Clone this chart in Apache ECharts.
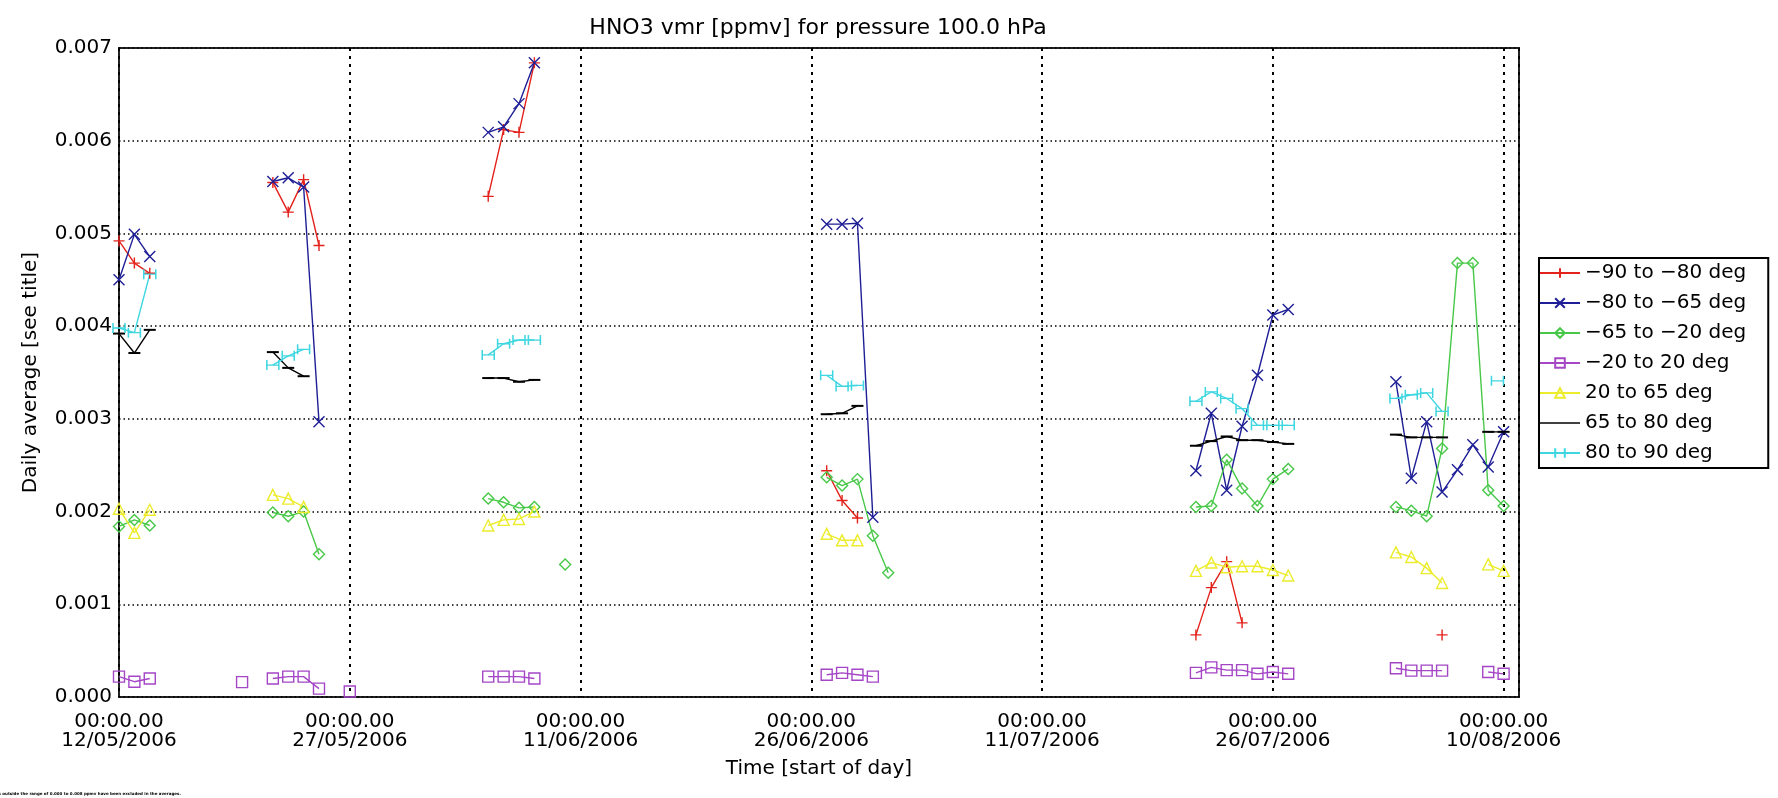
<!DOCTYPE html>
<html>
<head>
<meta charset="utf-8">
<title>HNO3 vmr for pressure 100.0 hPa</title>
<script src="https://cdn.jsdelivr.net/npm/echarts@6/dist/echarts.min.js"></script>
<style>
  html, body { margin: 0; padding: 0; background: #fff; }
  #chart { width: 1778px; height: 798px; }
</style>
</head>
<body>
<div id="chart"></div>
<script>
// Daily averages, x = days after 12/05/2006 00:00, y = vmr in ppmv
var startDate = Date.UTC(2006, 4, 12);
var dayMs = 86400000;

var seriesNames = ['\u221290 to \u221280 deg', '\u221280 to \u221265 deg', '\u221265 to \u221220 deg',
  '\u221220 to 20 deg', '20 to 65 deg', '65 to 80 deg', '80 to 90 deg'];

var redDays = [0, 1, 2, 10, 11, 12, 13, 24, 25, 26, 27, 46, 47, 48, 70, 71, 72, 73, 86];
var red = [0.00492, 0.00468, 0.00457, 0.00555, 0.00523, 0.00558, 0.00487, 0.00540, 0.00612, 0.00609, 0.00684,
  0.00244, 0.00212, 0.00193, 0.00067, 0.00118, 0.00146, 0.00080, 0.00067];

var blueDays = [0, 1, 2, 10, 11, 12, 13, 24, 25, 26, 27, 46, 47, 48, 49,
  70, 71, 72, 73, 74, 75, 76, 83, 84, 85, 86, 87, 88, 89, 90];
var blue = [0.00450, 0.00499, 0.00475, 0.00556, 0.00560, 0.00550, 0.00297, 0.00609, 0.00615, 0.00640, 0.00684,
  0.00510, 0.00510, 0.00511, 0.00194,
  0.00244, 0.00306, 0.00223, 0.00292, 0.00347, 0.00412, 0.00418,
  0.00340, 0.00236, 0.00297, 0.00221, 0.00245, 0.00272, 0.00248, 0.00286];

var greenDays = [0, 1, 2, 10, 11, 12, 13, 24, 25, 26, 27, 29, 46, 47, 48, 49, 50,
  70, 71, 72, 73, 74, 75, 76, 83, 84, 85, 86, 87, 88, 89, 90];
var green = [0.00184, 0.00191, 0.00185, 0.00199, 0.00195, 0.00200, 0.00154, 0.00214, 0.00210, 0.00204, 0.00205,
  0.00143, 0.00237, 0.00228, 0.00235, 0.00174, 0.00134,
  0.00205, 0.00206, 0.00256, 0.00225, 0.00206, 0.00235, 0.00246,
  0.00205, 0.00201, 0.00195, 0.00268, 0.00468, 0.00468, 0.00223, 0.00206];

var purpleDays = [0, 1, 2, 8, 10, 11, 12, 13, 15, 24, 25, 26, 27, 46, 47, 48, 49,
  70, 71, 72, 73, 74, 75, 76, 83, 84, 85, 86, 89, 90];
var purple = [0.00022, 0.000165, 0.00020, 0.00016, 0.00020, 0.00022, 0.00022, 0.00009, 0.00006,
  0.00022, 0.00022, 0.00022, 0.00020, 0.00024, 0.00026, 0.00024, 0.00022,
  0.00026, 0.00032, 0.00029, 0.00029, 0.00025, 0.00027, 0.00025,
  0.00031, 0.000285, 0.000285, 0.000285, 0.00027, 0.00025];

var yellowDays = [0, 1, 2, 10, 11, 12, 24, 25, 26, 27, 46, 47, 48,
  70, 71, 72, 73, 74, 75, 76, 83, 84, 85, 86, 89, 90];
var yellow = [0.00203, 0.00177, 0.00202, 0.00218, 0.00214, 0.00205, 0.00185, 0.00191, 0.00192, 0.00200,
  0.00176, 0.00169, 0.00169,
  0.00136, 0.00145, 0.00140, 0.00141, 0.00141, 0.00137, 0.00131,
  0.00156, 0.00151, 0.00139, 0.00123, 0.00143, 0.00136];

var blackDays = [0, 1, 2, 10, 11, 12, 24, 25, 26, 27, 46, 47, 48,
  70, 71, 72, 73, 74, 75, 76, 83, 84, 85, 86, 89, 90];
var black = [0.00392, 0.00371, 0.00396, 0.00372, 0.00355, 0.00346, 0.00344, 0.00344, 0.00340, 0.00342,
  0.00305, 0.00306, 0.00314,
  0.00271, 0.00276, 0.00281, 0.00277, 0.00277, 0.00275, 0.00273,
  0.00283, 0.00280, 0.00280, 0.00280, 0.00286, 0.00286];

var cyanDays = [0, 1, 2, 10, 11, 12, 24, 25, 26, 27, 46, 47, 48,
  70, 71, 72, 73, 74, 75, 76, 83, 84, 85, 86, 89.6];
var cyan = [0.00398, 0.00393, 0.00456, 0.00358, 0.00368, 0.00375, 0.00369, 0.00381, 0.00385, 0.00385,
  0.00347, 0.00335, 0.00336,
  0.00319, 0.00329, 0.00322, 0.00311, 0.00293, 0.00293, 0.00293,
  0.00322, 0.00326, 0.00328, 0.00308, 0.00341];

var yTickDecimals = 3;
var font = '"DejaVu Sans", "Liberation Sans", sans-serif';

// join days and values, break the line where days are missing
function pairs(days, vals) {
  var out = [];
  for (var i = 0; i < days.length; i++) {
    if (i > 0 && days[i] - days[i - 1] > 1.01) {
      out.push([days[i - 1] + 0.5, null]);
    }
    out.push([days[i], vals[i]]);
  }
  return out;
}

function dateLabel(v) {
  var d = new Date(startDate + v * dayMs);
  var dd = ('0' + d.getUTCDate()).slice(-2);
  var mm = ('0' + (d.getUTCMonth() + 1)).slice(-2);
  return '00:00.00\n' + dd + '/' + mm + '/' + d.getUTCFullYear();
}

var plusSym = 'path://M5,0L5,10M0,5L10,5';
var crossSym = 'path://M0,0L10,10M10,0L0,10';
var barSym = 'path://M0,1L0,9M0,5L10,5M10,1L10,9';

function mk(name, days, vals, color, symbol, size) {
  return {
    name: name,
    type: 'line',
    data: pairs(days, vals),
    symbol: symbol,
    symbolSize: size,
    symbolKeepAspect: false,
    connectNulls: false,
    lineStyle: { color: color, width: 1.4 },
    itemStyle: { color: 'rgba(255,255,255,0)', borderColor: color, borderWidth: 1.4 },
    emphasis: { disabled: true }
  };
}

var series = [
  mk(seriesNames[0], redDays, red, '#e3221c', plusSym, 11),
  mk(seriesNames[1], blueDays, blue, '#1e1e96', crossSym, 11),
  mk(seriesNames[2], greenDays, green, '#48c848', 'diamond', 11),
  mk(seriesNames[3], purpleDays, purple, '#a446c6', 'rect', 11),
  mk(seriesNames[4], yellowDays, yellow, '#ecec2c', 'triangle', 11),
  mk(seriesNames[5], blackDays, black, '#000000', 'rect', [12, 2]),
  mk(seriesNames[6], cyanDays, cyan, '#3ed6e0', barSym, [12, 10])
];
// black dashes are filled
series[5].itemStyle = { color: '#000', borderWidth: 0 };

var legendData = seriesNames.map(function (n, i) {
  // the 65-80 entry is shown as a plain line
  return i === 5 ? { name: n, icon: 'path://M0,0L40,0L40,1.6L0,1.6Z' } : { name: n };
});

var chart = echarts.init(document.getElementById('chart'));

chart.setOption({
  animation: false,
  backgroundColor: '#fff',
  textStyle: { fontFamily: font },
  grid: {
    left: 119, right: 259, top: 48, bottom: 101,
    show: true, borderColor: '#222', borderWidth: 2, backgroundColor: 'transparent'
  },
  xAxis: {
    type: 'value',
    min: 0, max: 91, interval: 15,
    axisLine: { show: false },
    axisTick: { show: false },
    splitLine: { show: true, lineStyle: { color: '#000', width: 2, type: [3, 5] } },
    axisLabel: {
      formatter: dateLabel, showMaxLabel: false,
      color: '#000', fontSize: 20, lineHeight: 19, margin: 15, fontFamily: font
    },
    name: 'Time [start of day]',
    nameLocation: 'middle',
    nameGap: 62,
    nameTextStyle: { color: '#000', fontSize: 20, fontFamily: font }
  },
  yAxis: {
    type: 'value',
    min: 0, max: 0.007, interval: 0.001,
    axisLine: { show: false },
    axisTick: { show: false },
    splitLine: { show: true, lineStyle: { color: '#000', width: 1.5, type: [1.5, 3] } },
    axisLabel: {
      formatter: function (v) { return v.toFixed(yTickDecimals); },
      color: '#000', fontSize: 20, margin: 7, fontFamily: font
    },
    name: 'Daily average [see title]',
    nameLocation: 'middle',
    nameRotate: 90,
    nameGap: 78,
    nameTextStyle: { color: '#000', fontSize: 20, fontFamily: font }
  },
  legend: {
    orient: 'vertical',
    left: 1539, top: 258,
    itemWidth: 40, itemHeight: 12, itemGap: 10,
    padding: [5, 22, 5, 0],
    borderColor: '#000', borderWidth: 2,
    textStyle: { color: '#000', fontSize: 20, lineHeight: 20, fontFamily: font },
    data: legendData
  },
  graphic: [
    {
      type: 'text', x: 818, y: 28,
      style: {
        text: 'HNO3 vmr [ppmv] for pressure 100.0 hPa',
        font: '22px ' + font, fill: '#000',
        align: 'center', verticalAlign: 'middle',
        textAlign: 'center', textVerticalAlign: 'middle'
      }
    },
    {
      type: 'text', x: -14, y: 794,
      style: {
        text: 'Values outside the range of 0.000 to 0.008 ppmv have been excluded in the averages.',
        font: 'bold 4px ' + font, fill: '#000',
        verticalAlign: 'middle', textVerticalAlign: 'middle'
      }
    }
  ],
  series: series
});
</script>
</body>
</html>
